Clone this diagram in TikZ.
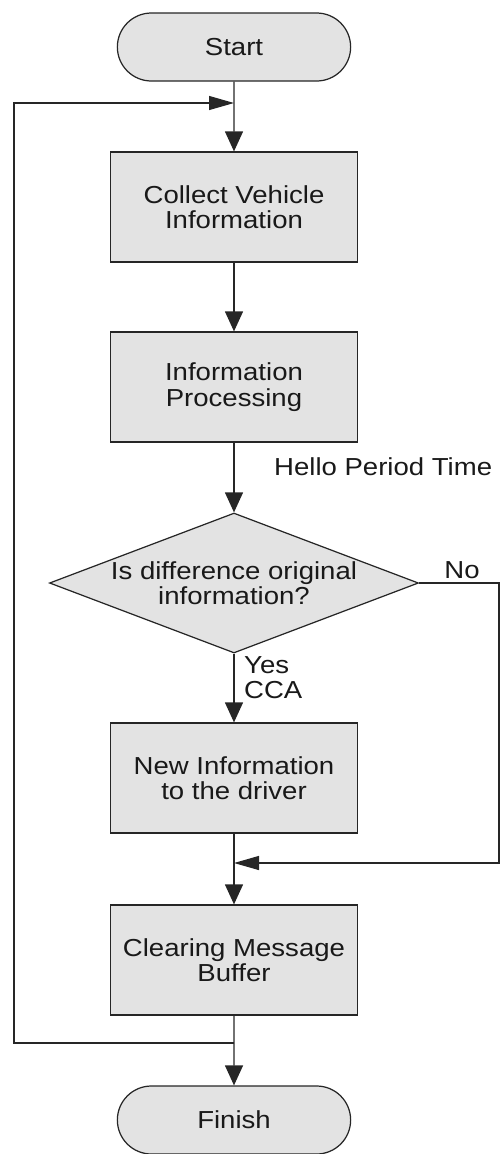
\documentclass[tikz,border=0pt]{standalone}
\usepackage{fontspec}
\setmainfont{Liberation Sans}[FakeStretch=1.12]
\usepackage{tikz}
\usetikzlibrary{arrows.meta, positioning, shapes.misc, shapes.geometric}

\begin{document}
\begin{tikzpicture}[
	every node/.style={font=\fontsize{14}{14.5}\selectfont, text=black!90},
	terminal/.style={draw=black!85, fill=gray!22, line width=0.7pt, rounded rectangle, minimum width=4.9cm, minimum height=1.36cm},
	process/.style={draw=black!85, fill=gray!22, line width=0.7pt, rectangle, align=center, minimum width=4.94cm, minimum height=2.2cm},
	decision/.style={draw=black!85, fill=gray!22, line width=0.7pt, diamond, align=center, aspect=2.6, inner sep=0pt, minimum width=7.38cm, minimum height=2.8cm},
	flow/.style={draw=black!85, line width=0.7pt, -{Triangle[length=0.4cm, width=0.36cm]}},
	joinflow/.style={draw=black!85, line width=0.7pt, -{Triangle[length=0.5cm, width=0.28cm]}}
	]
	\useasboundingbox (0,0) rectangle (10.04,-23.08);

	\node[terminal] at (4.68, -0.94) (start) {Start};
	\node[process] at (4.68, -4.14) (collect) {Collect Vehicle\\Information};
	\node[process] at (4.68, -7.74) (proc) {Information\\Processing};
	\node[decision] at (4.68, -11.66) (check) {Is difference original\\information?};
	\node[process] at (4.68, -15.56) (newinfo) {New Information\\to the driver};
	\node[process] at (4.68, -19.2) (clearing) {Clearing Message\\Buffer};
	\node[terminal] at (4.68, -22.4) (finish) {Finish};

	\node[anchor=west] at (5.36, -9.34) (hello) {Hello Period Time};
	\node at (9.24, -11.4) (no) {No};
	\node[anchor=north west, align=left] at (4.76, -13.0) (yes) {Yes\\CCA};

	\coordinate (loopin) at (4.68, -2.06);
	\coordinate (loopout) at (4.68, -20.86);
	\coordinate (leftside) at (0.28, -10);
	\coordinate (merge) at (4.68, -17.26);
	\coordinate (rightside) at (9.98, -14);

	\draw[flow] (start) -- (collect);
	\draw[flow] (collect) -- (proc);
	\draw[flow] (proc) -- (check);
	\draw[flow] (check) -- (newinfo);
	\draw[flow] (newinfo) -- (clearing);
	\draw[flow] (clearing) -- (finish);

	\draw[joinflow] (check.east) -| (rightside) |- (merge);
	\draw[joinflow] (loopout) -| (leftside) |- (loopin);
\end{tikzpicture}
\end{document}
